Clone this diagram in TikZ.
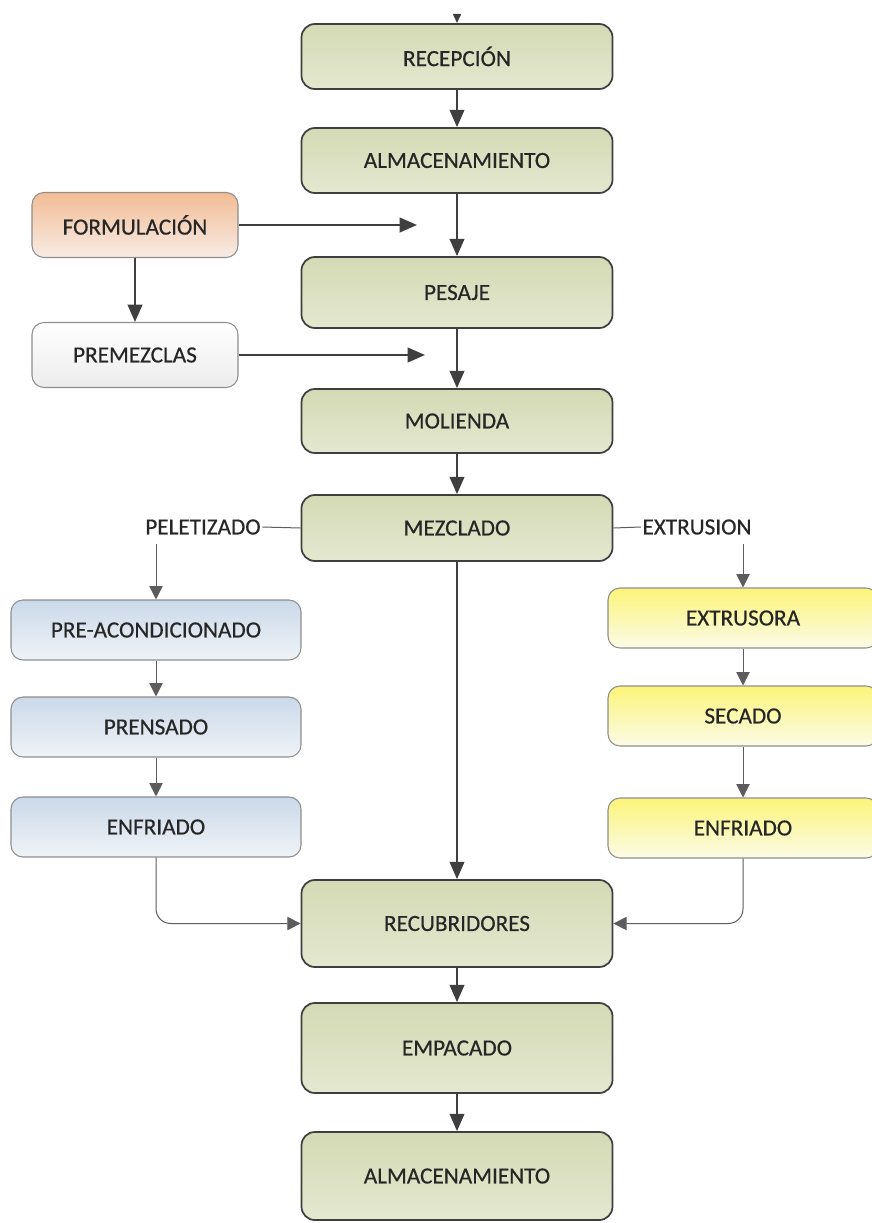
\documentclass[tikz,border=0pt]{standalone}
\usepackage{fontspec}
\setmainfont{Carlito}
\newfontfamily\fuenteCaja{Carlito}[FakeBold=0.45]
\usetikzlibrary{arrows.meta,positioning}

\definecolor{verdeTop}{HTML}{D3DAB4}
\definecolor{verdeBot}{HTML}{E4E8D0}
\definecolor{naranjaTop}{HTML}{F2BC95}
\definecolor{naranjaBot}{HTML}{F7ECE5}
\definecolor{grisTop}{HTML}{FFFFFF}
\definecolor{grisBot}{HTML}{ECECEC}
\definecolor{azulTop}{HTML}{CBD9E9}
\definecolor{azulBot}{HTML}{EFF3F7}
\definecolor{amarilloTop}{HTML}{FCF479}
\definecolor{amarilloBot}{HTML}{FBFBE7}
\definecolor{borde}{HTML}{3F3F3F}
\definecolor{bordeSuave}{HTML}{8E8E8E}
\definecolor{texto}{HTML}{262626}

\begin{document}
\begin{tikzpicture}[x=0.75pt, y=-0.75pt,
    etapa/.style={rectangle, rounded corners=10pt, draw=borde, line width=1.3pt, top color=verdeTop, bottom color=verdeBot, minimum width=233.25pt, inner sep=0pt, text=texto, font=\fuenteCaja\fontsize{17.4}{20}\selectfont},
    caja/.style={rectangle, rounded corners=9pt, draw=bordeSuave, line width=0.8pt, inner sep=0pt, text=texto, font=\fuenteCaja\fontsize{17.4}{20}\selectfont},
    rama/.style={text=texto, inner sep=1pt, font=\fuenteCaja\fontsize{17.4}{20}\selectfont},
    flujo/.style={draw=borde, line width=1.5pt, -{Triangle[length=13pt,width=11pt]}},
    linea/.style={draw=borde!85, line width=0.75pt, rounded corners=11pt},
    flecha/.style={linea, -{Triangle[length=10pt,width=10pt]}}]

                \useasboundingbox (0, 0) rectangle (871, 1223);

                % Nodes
                \node[etapa, minimum height=48.75pt] at (457, 56.5) (recepcion) {RECEPCIÓN};
                \node[etapa, minimum height=48.75pt] at (457, 160.5) (almacen) {ALMACENAMIENTO};
                \node[etapa, minimum height=53.25pt] at (457, 292.5) (pesaje) {PESAJE};
                \node[etapa, minimum height=48pt] at (457, 421) (molienda) {MOLIENDA};
                \node[etapa, minimum height=49.5pt] at (457, 528) (mezclado) {MEZCLADO};
                \node[etapa, minimum height=65.25pt] at (457, 923.5) (recubridores) {RECUBRIDORES};
                \node[etapa, minimum height=67.5pt] at (457, 1048) (empacado) {EMPACADO};
                \node[etapa, minimum height=66pt] at (457, 1176) (almacenfin) {ALMACENAMIENTO};

                \node[caja, top color=naranjaTop, bottom color=naranjaBot, minimum width=154.5pt, minimum height=48.75pt] at (135, 225) (formulacion) {FORMULACIÓN};
                \node[caja, top color=grisTop, bottom color=grisBot, minimum width=154.5pt, minimum height=48.75pt] at (135, 355) (premezclas) {PREMEZCLAS};

                \node[rama] at (203, 527) (peletizado) {PELETIZADO};
                \node[caja, top color=azulTop, bottom color=azulBot, minimum width=217.5pt, minimum height=45pt] at (156, 630) (preacond) {PRE-ACONDICIONADO};
                \node[caja, top color=azulTop, bottom color=azulBot, minimum width=217.5pt, minimum height=45pt] at (156, 727) (prensado) {PRENSADO};
                \node[caja, top color=azulTop, bottom color=azulBot, minimum width=217.5pt, minimum height=45pt] at (156, 827) (enfriadoP) {ENFRIADO};

                \node[rama] at (697, 527) (extrusion) {EXTRUSION};
                \node[caja, top color=amarilloTop, bottom color=amarilloBot, minimum width=202.5pt, minimum height=45pt] at (743, 618) (extrusora) {EXTRUSORA};
                \node[caja, top color=amarilloTop, bottom color=amarilloBot, minimum width=202.5pt, minimum height=45pt] at (743, 716) (secado) {SECADO};
                \node[caja, top color=amarilloTop, bottom color=amarilloBot, minimum width=202.5pt, minimum height=45pt] at (743, 828) (enfriadoE) {ENFRIADO};

                \coordinate (entrada) at (457, 14);
                \coordinate (finForm) at (417, 225);
                \coordinate (finPrem) at (425, 355);

                % main line
                \draw[flujo, -{Triangle[length=7pt,width=6pt]}] (entrada) -- (recepcion);
                \draw[flujo] (recepcion) -- (almacen);
                \draw[flujo] (almacen) -- (pesaje);
                \draw[flujo] (pesaje) -- (molienda);
                \draw[flujo] (molienda) -- (mezclado);
                \draw[flujo] (mezclado) -- (recubridores);
                \draw[flujo] (recubridores) -- (empacado);
                \draw[flujo] (empacado) -- (almacenfin);

                \draw[flujo] (formulacion) -- (finForm);
                \draw[flujo] (formulacion) -- (premezclas);
                \draw[flujo] (premezclas) -- (finPrem);

                % peletizado
                \draw[linea] (mezclado.west) -- (peletizado.east);
                \draw[flecha] (peletizado.south -| preacond) ++(0, 8) -- (preacond);
                \draw[flecha] (preacond) -- (prensado);
                \draw[flecha] (prensado) -- (enfriadoP);
                \draw[flecha] (enfriadoP) |- (recubridores);

                % extrusion
                \draw[linea] (mezclado.east) -- (extrusion.west);
                \draw[flecha] (extrusion.south -| extrusora) ++(0, 8) -- (extrusora);
                \draw[flecha] (extrusora) -- (secado);
                \draw[flecha] (secado) -- (enfriadoE);
                \draw[flecha] (enfriadoE) |- (recubridores);

            \end{tikzpicture}
\end{document}
